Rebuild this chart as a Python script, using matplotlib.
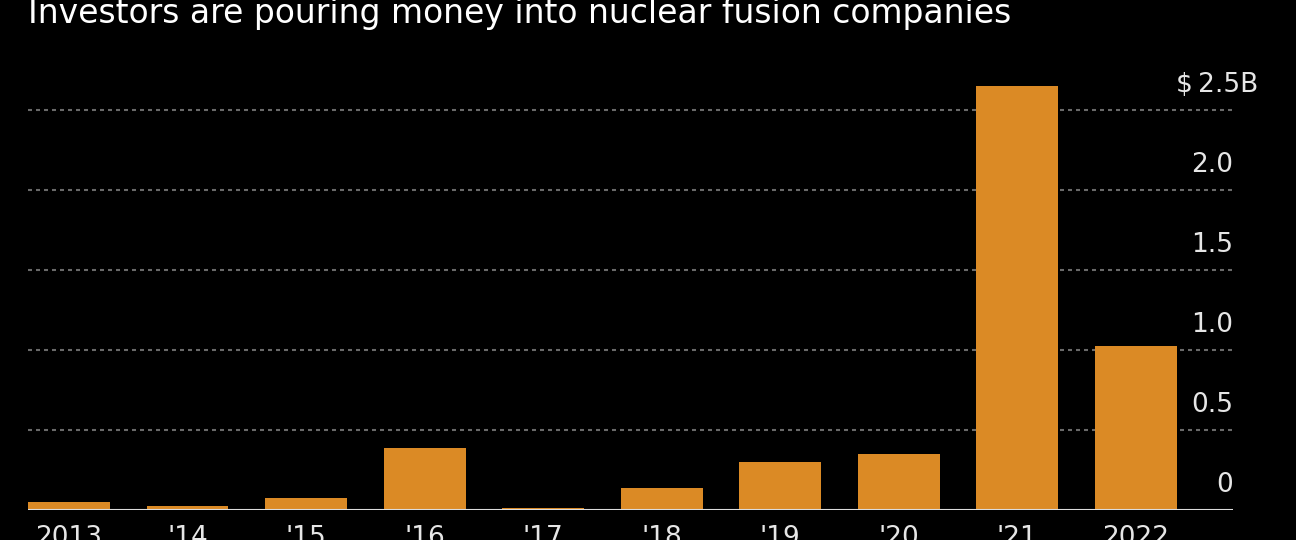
import numpy as np
import matplotlib
matplotlib.use("Agg")
import matplotlib.pyplot as plt
import matplotlib.transforms as mtransforms

# funding per year, billions of dollars
years = ["2013", "'14", "'15", "'16", "'17", "'18", "'19", "'20", "'21", "2022"]
funding = [0.05, 0.025, 0.075, 0.39, 0.012, 0.137, 0.30, 0.35, 2.65, 1.025]
yticks = [0, 0.5, 1.0, 1.5, 2.0, 2.5]
ytick_labels = ["0", "0.5", "1.0", "1.5", "2.0", "2.5"]

bg = "black"
bar_color = "#db8a25"
text_color = "#e6e6e6"

plt.rcParams['font.family'] = ['DejaVu Sans']

W, H = 1296, 540
fig = plt.figure(figsize=(W / 100, H / 100), dpi=100, facecolor=bg)
ax = fig.add_axes([28 / W, 30 / H, (1233 - 28) / W, (510 - 60) / H], facecolor=bg)

x = np.arange(len(years))
ax.bar(x, funding, width=0.69, color=bar_color, zorder=3)

ax.set_xlim(-0.346, 9.82)
ax.set_ylim(0, 2.8125)

# dotted grid lines
for v in yticks[1:]:
    ax.axhline(v, color="#6a6a6a", lw=1.5, ls=(0, (1.92, 1.92)), zorder=1)
ax.axhline(0, color="#dcdcdc", lw=1.5, zorder=4)

# y labels on the right, sitting above their lines
off = mtransforms.offset_copy(ax.get_yaxis_transform(), fig=fig, x=0, y=13, units="points")
off_top = mtransforms.offset_copy(ax.get_yaxis_transform(), fig=fig, x=18, y=13, units="points")
for v, lab in zip(yticks, ytick_labels):
    if v == 2.5:
        ax.text(1.0, v, "$\u2009" + lab + "B", transform=off_top, ha="right", va="baseline",
                fontsize=19, color=text_color)
    else:
        ax.text(1.0, v, lab, transform=off, ha="right", va="baseline",
                fontsize=19, color=text_color)

ax.set_xticks(x)
ax.set_xticklabels(years, fontsize=19, color=text_color)
ax.tick_params(axis="x", length=0, pad=11)
ax.set_yticks([])
for s in ax.spines.values():
    s.set_visible(False)

fig.text(28 / W, 1 - 23 / H, "Investors are pouring money into nuclear fusion companies",
         fontsize=23.8, color="white", ha="left", va="baseline")

fig.savefig("out.png", dpi=100, facecolor=bg)
